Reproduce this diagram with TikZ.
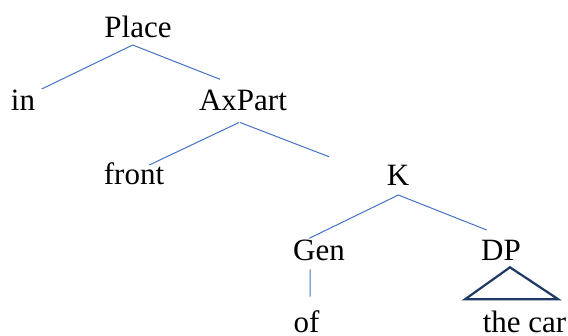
\documentclass[tikz,border=0pt]{standalone}
\usepackage{fontspec}
\setmainfont{Liberation Serif}
\usetikzlibrary{calc}
\definecolor{branchblue}{HTML}{4472C4}
\definecolor{navy}{HTML}{1F3864}
\tikzset{
  lbl/.style={anchor=base, inner sep=0pt, font=\fontsize{31bp}{36bp}\selectfont},
  branch/.style={draw=branchblue, line width=1bp},
  tri/.style={draw=navy, line width=2.2bp, line join=miter}
}
\begin{document}
\begin{tikzpicture}[x=1bp,y=-1bp]
\useasboundingbox (0,0) rectangle (568,335);
\node[lbl] (place) at (138,37) {Place};
\node[lbl] (in) at (23,110) {in};
\node[lbl] (axpart) at (243,110) {AxPart};
\node[lbl] (front) at (134,184) {front};
\node[lbl] (k) at (398,185) {K};
\node[lbl] (gen) at (319,260) {Gen};
\node[lbl] (dp) at (501,260) {DP};
\node[lbl] (of) at (306.5,332.5) {of};
\node[lbl] (thecar) at (524.5,332.5) {the car};

\draw[branch] ($(place.base)+(-5.3,8)$) -- ($(in.base)+(18.7,-21)$);
\draw[branch] ($(place.base)+(-5.3,8)$) -- ($(axpart.base)+(-23,-30.7)$);
\draw[branch] ($(axpart.base)+(-4,12.5)$) -- ($(front.base)+(15.3,-19)$);
\draw[branch] ($(axpart.base)+(-3,12.5)$) -- ($(k.base)+(-69,-28.3)$);
\draw[branch] ($(k.base)+(0.3,10)$) -- ($(gen.base)+(-9.7,-21.7)$);
\draw[branch] ($(k.base)+(0.3,10)$) -- ($(dp.base)+(-14.3,-30)$);
\draw[branch] ($(gen.base)+(-9,9.3)$) -- ($(of.base)+(3.5,-35.8)$);
\draw[tri] ($(dp.base)+(9,7.3)$) -- ($(dp.base)+(-36,39.3)$) -- ($(dp.base)+(57.3,39.3)$) -- cycle;
\end{tikzpicture}
\end{document}
